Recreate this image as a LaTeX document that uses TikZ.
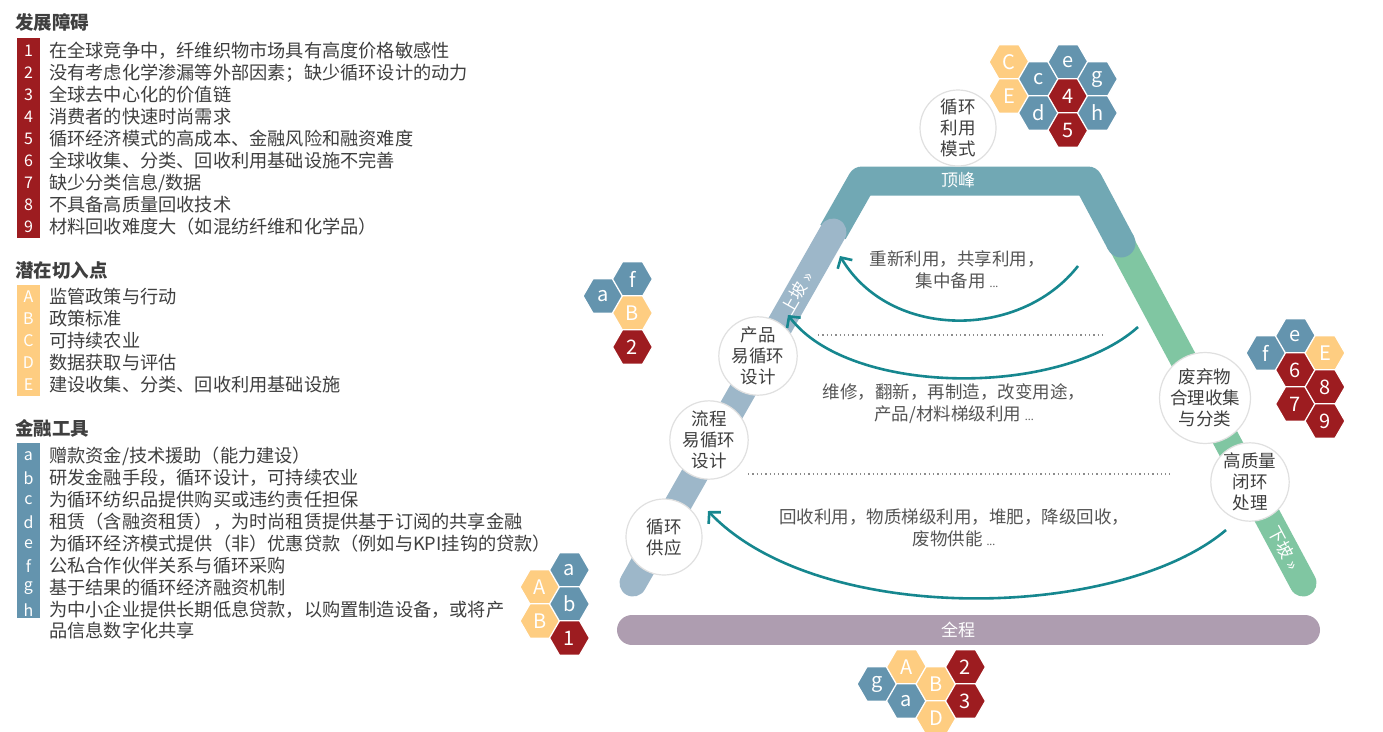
\documentclass[tikz,border=0pt]{standalone}
\usepackage{fontspec}
\setmainfont{Noto Sans CJK SC}
\newfontfamily\latinfont{Noto Sans}
\usetikzlibrary{shapes.geometric,arrows.meta}

\definecolor{txt}{HTML}{3F3F3F}
\definecolor{midtxt}{HTML}{555555}
\definecolor{redc}{HTML}{9D1C20}
\definecolor{yelc}{HTML}{FECD81}
\definecolor{bluc}{HTML}{6494AE}
\definecolor{tealband}{HTML}{71A8B4}
\definecolor{lblue}{HTML}{9DB7C9}
\definecolor{greenc}{HTML}{80C6A2}
\definecolor{mauve}{HTML}{AE9DB0}
\definecolor{arrowteal}{HTML}{16878F}
\definecolor{ring}{HTML}{E0E0E0}
\definecolor{dotc}{HTML}{8C8C8C}

\newcommand{\mydots}{{\latinfont\fontsize{11}{11}\selectfont ...}}

\tikzset{
  hexbase/.style={regular polygon, regular polygon sides=6, minimum size=40pt, inner sep=0pt,
    draw=white, line width=1.3pt, text=white, font=\fontsize{20}{20}\selectfont},
  hr/.style={hexbase, fill=redc},
  hy/.style={hexbase, fill=yelc},
  hb/.style={hexbase, fill=bluc},
  header/.style={anchor=west, inner sep=0pt, text=txt, font=\fontsize{18.5}{20}\selectfont\bfseries},
  listtxt/.style={anchor=west, inner sep=0pt, text=txt, font=\fontsize{18.2}{20}\selectfont},
  stripnum/.style={inner sep=0pt, text=white, font=\fontsize{16}{16}\selectfont},
  stage/.style={circle, draw=ring, fill=white, line width=1.2pt, minimum size=76pt, inner sep=0pt,
    align=center, text=txt, font=\fontsize{17.5}{21}\selectfont},
  midtext/.style={align=center, inner sep=0pt, text=midtxt, font=\fontsize{17.5}{22}\selectfont},
  bandlabel/.style={inner sep=0pt, text=white, font=\fontsize{17}{17}\selectfont},
  loop/.style={draw=arrowteal, line width=2.6pt, -{Straight Barb[length=8pt,width=17pt]}},
  dotline/.style={draw=dotc, line width=1.3pt, dash pattern=on 1.3pt off 3pt}
}

\begin{document}
\begin{tikzpicture}[x=1pt,y=-1pt]
\useasboundingbox (0,0) rectangle (1383,731);
\fill[white] (0,0) rectangle (1383,731);

% ---------------- left legend ----------------
\node[header] (h1) at (15,22) {发展障碍};
\fill[redc] (17,38) rectangle (40,238);
\foreach \k/\t [count=\i from 0] in {
 1/{在全球竞争中，纤维织物市场具有高度价格敏感性},
 2/{没有考虑化学渗漏等外部因素；缺少循环设计的动力},
 3/{全球去中心化的价值链},
 4/{消费者的快速时尚需求},
 5/{循环经济模式的高成本、金融风险和融资难度},
 6/{全球收集、分类、回收利用基础设施不完善},
 7/{缺少分类信息/数据},
 8/{不具备高质量回收技术},
 9/{材料回收难度大（如混纺纤维和化学品）}}{
  \node[stripnum] (on\k) at (28.5,{51+22*\i}) {\k};
  \node[listtxt] (ot\k) at (49,{51+22*\i}) {\t};
}

\node[header] (h2) at (15,271) {潜在切入点};
\fill[yelc] (17,285) rectangle (40,396);
\foreach \k/\t [count=\i from 0] in {
 A/{监管政策与行动},
 B/{政策标准},
 C/{可持续农业},
 D/{数据获取与评估},
 E/{建设收集、分类、回收利用基础设施}}{
  \node[stripnum] (pn\k) at (28.5,{297+22*\i}) {\k};
  \node[listtxt] (pt\k) at (49,{297+22*\i}) {\t};
}

\node[header] (h3) at (15,428) {金融工具};
\fill[bluc] (17,443) rectangle (40,618);
\foreach \k/\t [count=\i from 0] in {
 a/{赠款资金/技术援助（能力建设）},
 b/{研发金融手段，循环设计，可持续农业},
 c/{为循环纺织品提供购买或违约责任担保},
 d/{租赁（含融资租赁），为时尚租赁提供基于订阅的共享金融},
 e/{为循环经济模式提供（非）优惠贷款（例如与KPI挂钩的贷款）},
 f/{公私合作伙伴关系与循环采购},
 g/{基于结果的循环经济融资机制},
 h/{为中小企业提供长期低息贷款，以购置制造设备，或将产}}{
  \node[stripnum] (fn\k) at (28.5,{456+22*\i}) {\k};
  \node[listtxt] (ft\k) at (49,{456+22*\i}) {\t};
}
\node[listtxt] (fth2) at (49,631) {品信息数字化共享};

% ---------------- mountain ----------------
\coordinate (lbot) at (633,583);
\coordinate (ltop) at (833,232);
\coordinate (lcorner) at (862,181);
\coordinate (rcorner) at (1088,181);
\coordinate (rjoin) at (1121,243);
\coordinate (rbot) at (1303,583);
\draw[greenc, line width=27pt, line cap=round] (rjoin) -- (rbot);
\draw[tealband, line width=29pt, line join=round] (ltop) -- (lcorner) -- (rcorner) -- (rjoin);
\fill[tealband] (rjoin) circle (14.5pt);
\draw[lblue, line width=27pt, line cap=round] (ltop) -- (lbot);

\node[bandlabel] (peak) at (958,180) {顶峰};
\node[bandlabel, rotate=60] (up) at (797,293) {上坡 »};
\node[bandlabel, rotate=-62] (down) at (1284,548) {下坡 »};

% bottom bar
\draw[mauve, line width=30pt, line cap=round] (632,630) -- (1305,630);
\node[bandlabel] (whole) at (958,630) {全程};

% stage circles
\node[stage] (s0) at (958,128) {循环\\利用\\模式};
\node[stage] (s1) at (758,356) {产品\\易循环\\设计};
\node[stage] (s2) at (709,440) {流程\\易循环\\设计};
\node[stage] (s3) at (664,537) {循环\\供应};
\node[stage] (s4) at (1205,398) {废弃物\\合理收集\\与分类};
\node[stage] (s5) at (1250,482) {高质量\\闭环\\处理};

% dotted separators
\draw[dotline] (818,335) -- (1105,335);
\draw[dotline] (748,474) -- (1170,474);

% loop arrows
\coordinate (a1s) at (1078,266);
\coordinate (a1e) at (840,256);
\coordinate (a2s) at (1138,327);
\coordinate (a2e) at (788,315);
\coordinate (a3s) at (1226,530);
\coordinate (a3e) at (708,511);
\draw[loop] (a1s) .. controls (1020,340) and (890,340) .. (a1e);
\draw[loop] (a2s) .. controls (1060,397) and (850,397) .. (a2e);
\draw[loop] (a3s) .. controls (1120,620) and (820,628) .. (a3e);

\node[midtext] (m1) at (957,270) {重新利用，共享利用，\\集中备用 \mydots};
\node[midtext] (m2) at (954,404) {维修，翻新，再制造，改变用途，\\产品/材料梯级利用 \mydots};
\node[midtext] (m3) at (954,528) {回收利用，物质梯级利用，堆肥，降级回收，\\废物供能 \mydots};

% ---------------- hexagon clusters ----------------
% top
\node[hy] (tC) at (1009,62) {C};
\node[hy] (tE) at (1009,96) {E};
\node[hb] (tc) at (1038.5,79) {c};
\node[hb] (td) at (1038.5,113) {d};
\node[hb] (te) at (1068,62) {e};
\node[hr] (t4) at (1068,96) {4};
\node[hr] (t5) at (1068,130) {5};
\node[hb] (tg) at (1097.5,79) {g};
\node[hb] (th) at (1097.5,113) {h};

% left middle
\node[hb] (la) at (603,296) {a};
\node[hb] (lf) at (632.5,279) {f};
\node[hy] (lB) at (632.5,313) {B};
\node[hr] (l2) at (632.5,347) {2};

% right
\node[hb] (rf) at (1266,353) {f};
\node[hb] (re) at (1295.5,336) {e};
\node[hr] (r6) at (1295.5,370) {6};
\node[hr] (r7) at (1295.5,404) {7};
\node[hy] (rE) at (1325,353) {E};
\node[hr] (r8) at (1325,387) {8};
\node[hr] (r9) at (1325,421) {9};

% bottom left
\node[hy] (bA) at (540,587) {A};
\node[hy] (bB) at (540,621) {B};
\node[hb] (ba) at (569.5,570) {a};
\node[hb] (bb) at (569.5,604) {b};
\node[hr] (b1) at (569.5,638) {1};

% bottom
\node[hb] (ug) at (877,684) {g};
\node[hy] (uA) at (906.5,667) {A};
\node[hb] (ua) at (906.5,701) {a};
\node[hy] (uB) at (936,684) {B};
\node[hy] (uD) at (936,718) {D};
\node[hr] (u2) at (965.5,667) {2};
\node[hr] (u3) at (965.5,701) {3};
\end{tikzpicture}
\end{document}
